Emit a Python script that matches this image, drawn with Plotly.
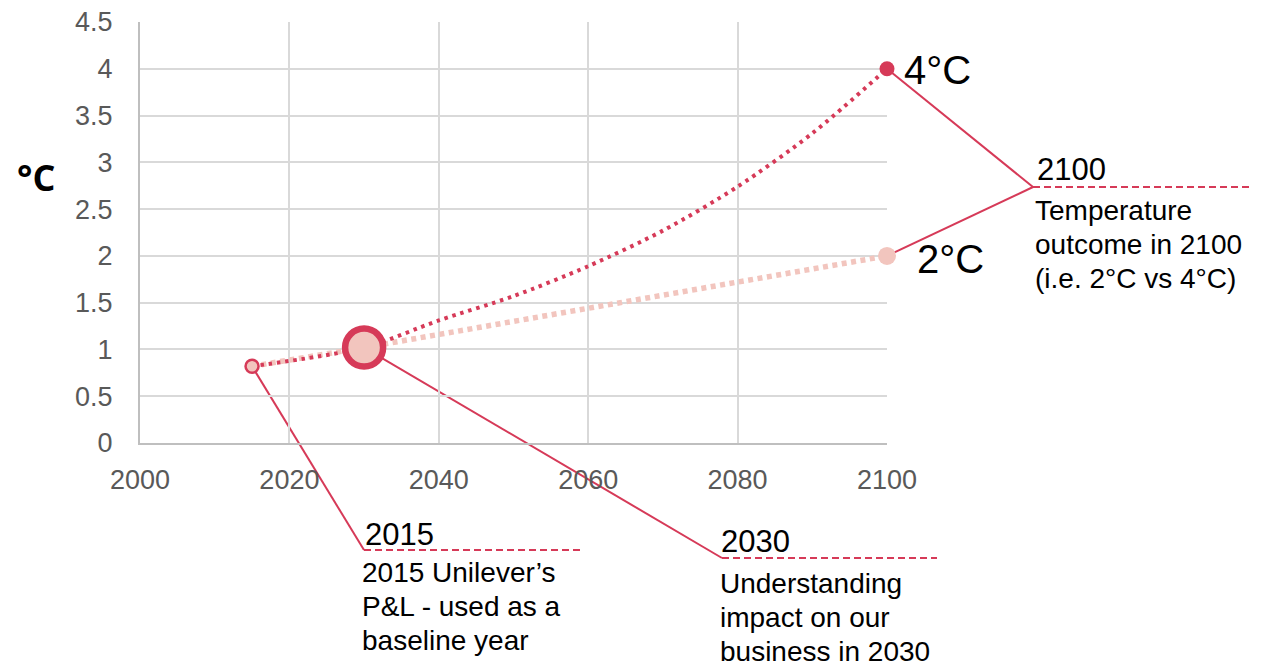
import plotly.graph_objects as go

# ---------------- data ----------------
years_4c = [2015, 2030, 2040, 2050, 2060, 2070, 2080, 2090, 2100]
temps_4c = [0.82, 1.02, 1.31, 1.57, 1.89, 2.27, 2.74, 3.31, 4.0]
years_2c = [2015, 2030, 2100]
temps_2c = [0.82, 1.02, 2.0]
milestone_years = [2015, 2030]
milestone_temps = [0.82, 1.02]
end_year = 2100
end_4c = 4.0
end_2c = 2.0
x_ticks = [2000, 2020, 2040, 2060, 2080, 2100]
y_ticks = [0, 0.5, 1, 1.5, 2, 2.5, 3, 3.5, 4, 4.5]

# ---------------- styling ----------------
RED = "#D63A58"
PINK = "#F2C5BE"
GRID = "#D9D9D9"
AXIS = "#BFBFBF"
TICK = "#595959"
FONT = "Liberation Sans, Arial, sans-serif"

PAGE_W, PAGE_H = 1274, 669
OFF = 8  # default body margin of the html page
W, H = PAGE_W - OFF, PAGE_H - OFF
# plot area in page pixels
PL, PR, PT, PB = 140, 887, 22, 443
X_RANGE = [2000, 2100]
Y_RANGE = [0, 4.5]


def px2paper(px, py):
    return (px - PL) / (PR - PL), (PB - py) / (PB - PT)


def data2paper(x, y):
    return ((x - X_RANGE[0]) / (X_RANGE[1] - X_RANGE[0]),
            (y - Y_RANGE[0]) / (Y_RANGE[1] - Y_RANGE[0]))


fig = go.Figure()

# 2°C pathway
fig.add_trace(go.Scatter(
    x=years_2c, y=temps_2c, mode="lines",
    line=dict(color=PINK, width=5.5, dash="5px,4.5px"),
    hoverinfo="skip", showlegend=False))

# 4°C pathway
fig.add_trace(go.Scatter(
    x=years_4c, y=temps_4c, mode="lines",
    line=dict(color=RED, width=4, dash="3.5px,4.8px", shape="spline", smoothing=0.8),
    hoverinfo="skip", showlegend=False))

# milestone markers
fig.add_trace(go.Scatter(
    x=milestone_years, y=milestone_temps, mode="markers",
    marker=dict(size=[13, 38], color=PINK, opacity=1,
                line=dict(color=RED, width=[2.5, 6.5])),
    cliponaxis=False, hoverinfo="skip", showlegend=False))

# end markers
fig.add_trace(go.Scatter(
    x=[end_year], y=[end_2c], mode="markers",
    marker=dict(size=18, color=PINK), cliponaxis=False,
    hoverinfo="skip", showlegend=False))
fig.add_trace(go.Scatter(
    x=[end_year], y=[end_4c], mode="markers",
    marker=dict(size=15, color=RED), cliponaxis=False,
    hoverinfo="skip", showlegend=False))

shapes = []


def connector(start, end_px):
    sx, sy = data2paper(*start)
    ex, ey = px2paper(*end_px)
    shapes.append(dict(type="line", xref="paper", yref="paper",
                       x0=sx, y0=sy, x1=ex, y1=ey,
                       line=dict(color=RED, width=2), layer="between"))


def underline(x0px, x1px, ypx):
    a, b = px2paper(x0px, ypx)
    c, _ = px2paper(x1px, ypx)
    shapes.append(dict(type="line", xref="paper", yref="paper",
                       x0=a, y0=b, x1=c, y1=b,
                       line=dict(color=RED, width=2, dash="7px,4px"), layer="between"))


connector((milestone_years[0], milestone_temps[0]), (364, 550))
underline(364, 582, 550)
connector((milestone_years[1], milestone_temps[1]), (722, 558))
underline(722, 937, 558)
connector((end_year, end_4c), (1033, 187))
connector((end_year, end_2c), (1033, 187))
underline(1033, 1252, 187)

annotations = []


def text(px, py, s, size, color="black", bold=False, family=FONT, xanchor="left"):
    x, y = px2paper(px, py)
    if bold:
        s = "<b>" + s + "</b>"
    annotations.append(dict(x=x, y=y, xref="paper", yref="paper", text=s,
                            showarrow=False, xanchor=xanchor, yanchor="middle",
                            align="left", borderpad=0,
                            font=dict(size=size, color=color, family=family)))


def block(px, py_first, lines, size, spacing):
    for i, ln in enumerate(lines):
        text(px, py_first + i * spacing, ln, size)


text(36, 177, "°C", 36, bold=True, family="Open Sans, sans-serif", xanchor="center")
text(903, 70, "4°C", 40)
text(916, 259, "2°C", 40)

text(364, 534, "2015", 31)
block(361, 572, ["2015 Unilever’s", "P&L - used as a", "baseline year"], 28, 34)
text(720, 541, "2030", 31)
block(719, 583, ["Understanding", "impact on our", "business in 2030"], 28, 34)
text(1036, 169, "2100", 31)
block(1034, 210, ["Temperature", "outcome in 2100", "(i.e. 2°C vs 4°C)"], 28, 34)

fig.update_layout(
    width=W, height=H, autosize=False,
    margin=dict(l=PL - OFF, r=W - (PR - OFF), t=PT - OFF, b=H - (PB - OFF), pad=0,
                autoexpand=False),
    paper_bgcolor="white", plot_bgcolor="white",
    shapes=shapes, annotations=annotations,
    font=dict(family=FONT),
    xaxis=dict(range=X_RANGE, tickvals=x_ticks, showgrid=True, gridcolor=GRID, gridwidth=2,
               showline=True, linecolor=AXIS, linewidth=2, zeroline=False, automargin=False,
               ticks="", ticklabelstandoff=12, ticklabeloverflow="allow",
               tickfont=dict(size=27, color=TICK, family=FONT), fixedrange=True),
    yaxis=dict(range=Y_RANGE, tickvals=y_ticks, showgrid=True, gridcolor=GRID, gridwidth=2,
               showline=True, linecolor=AXIS, linewidth=2, zeroline=False, automargin=False,
               ticks="", ticklabelstandoff=20, ticklabeloverflow="allow",
               tickfont=dict(size=27, color=TICK, family=FONT), fixedrange=True),
)

fig.write_html("out.html")
